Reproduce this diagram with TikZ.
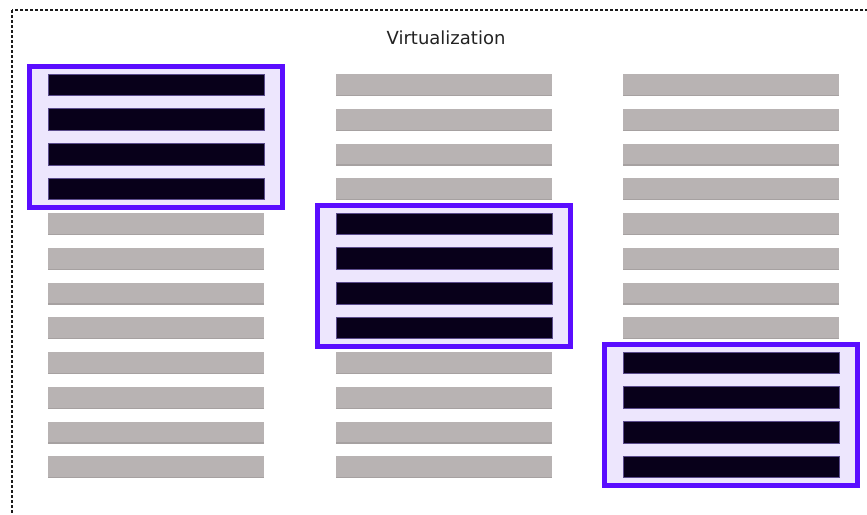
\documentclass[tikz,border=0pt]{standalone}
\usepackage{fontspec}
\setmainfont{DejaVu Sans}
\usetikzlibrary{fit,backgrounds}
\definecolor{barGray}{HTML}{B8B3B3}
\definecolor{barGrayEdge}{HTML}{A6A1A1}
\definecolor{barDark}{HTML}{08001A}
\definecolor{barDarkEdge}{HTML}{5B4C8C}
\definecolor{hlBorder}{HTML}{5A0DFF}
\definecolor{hlFill}{HTML}{EDE6FD}
\definecolor{frameGray}{HTML}{1A1A1A}
\definecolor{titleGray}{HTML}{222222}
\tikzset{
  slot/.style={rectangle, inner sep=0pt, outer sep=0pt, anchor=north west,
    minimum width=216pt, minimum height=21.5pt},
  idlebar/.style={slot, fill=barGray,
    path picture={\draw[barGrayEdge, line width=1.4pt]
      (path picture bounding box.south west) -- (path picture bounding box.south east);}},
  busybar/.style={slot, fill=barDark, draw=barDarkEdge, line width=0.8pt},
  vmbox/.style={rectangle, draw=hlBorder, fill=hlFill, line width=5pt,
    inner xsep=18.7pt, inner ysep=7.5pt},
  frame/.style={draw=frameGray, line width=1.1pt, dash pattern=on 3pt off 2pt},
  title/.style={font=\fontsize{18}{20}\selectfont, text=titleGray, inner sep=0pt}
}
\begin{document}
\begin{tikzpicture}[x=1pt, y=-1pt]
  \useasboundingbox (0,0) rectangle (867,514);
  \clip (0,0) rectangle (867,514);
  % dashed outer frame
  \draw[frame] (12,10) rectangle (900,540);
  \node[title] (title) at (446,38) {Virtualization};
  % three columns of twelve slots; four consecutive slots per column are busy
  \foreach \c/\x/\first in {1/48/0, 2/336/4, 3/623/8} {
    \foreach \r in {0,...,11} {
      \pgfmathtruncatemacro{\busy}{(\r>=\first) && (\r<\first+4)}
      \ifnum\busy=1
        \node[busybar] (c\c r\r) at (\x,{74+34.75*\r}) {};
      \else
        \node[idlebar] (c\c r\r) at (\x,{74+34.75*\r}) {};
      \fi
    }
  }
  % highlight boxes grouping the busy slots
  \begin{scope}[on background layer]
    \node[vmbox, fit=(c1r0)(c1r3)] (vm1) {};
    \node[vmbox, fit=(c2r4)(c2r7)] (vm2) {};
    \node[vmbox, fit=(c3r8)(c3r11)] (vm3) {};
  \end{scope}
\end{tikzpicture}
\end{document}
